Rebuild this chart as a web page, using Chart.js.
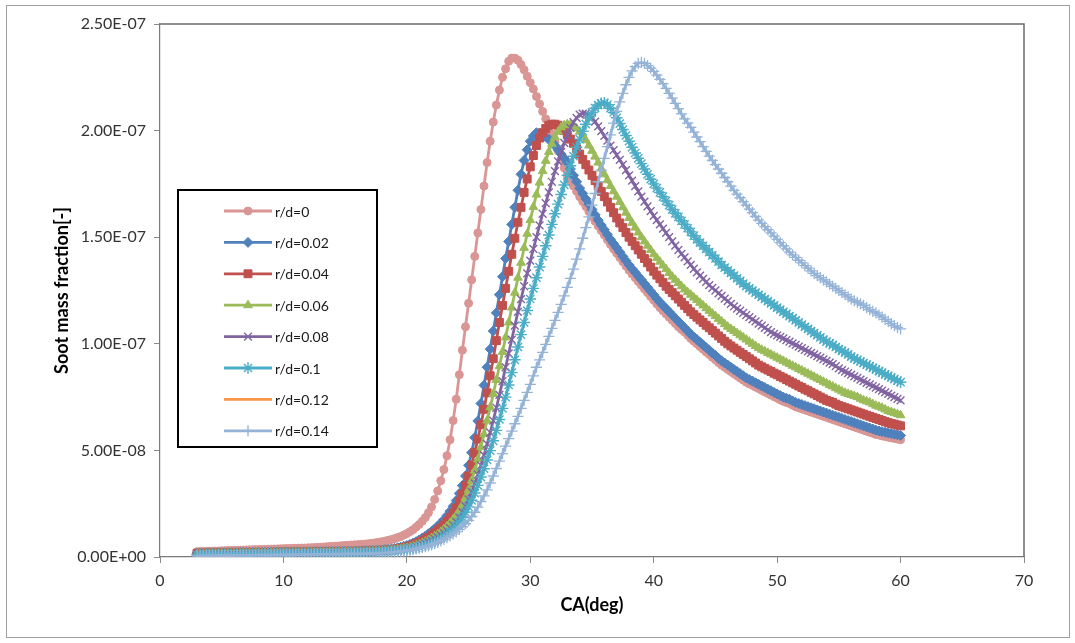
<!DOCTYPE html>
<html>
<head>
<meta charset="utf-8">
<script src="https://cdn.jsdelivr.net/npm/chart.js@4.4.1/dist/chart.umd.min.js"></script>
<style>
  html, body { margin: 0; padding: 0; background: #ffffff; }
  #wrap { width: 1075px; height: 643px; }
</style>
</head>
<body>
<div id="wrap"><canvas id="c" width="1075" height="643"></canvas></div>
<script>
// Crank angle (deg), 0.25 deg resolution
const CA = [
  3,3.25,3.5,3.75,4,4.25,4.5,4.75,
  5,5.25,5.5,5.75,6,6.25,6.5,6.75,
  7,7.25,7.5,7.75,8,8.25,8.5,8.75,
  9,9.25,9.5,9.75,10,10.25,10.5,10.75,
  11,11.25,11.5,11.75,12,12.25,12.5,12.75,
  13,13.25,13.5,13.75,14,14.25,14.5,14.75,
  15,15.25,15.5,15.75,16,16.25,16.5,16.75,
  17,17.25,17.5,17.75,18,18.25,18.5,18.75,
  19,19.25,19.5,19.75,20,20.25,20.5,20.75,
  21,21.25,21.5,21.75,22,22.25,22.5,22.75,
  23,23.25,23.5,23.75,24,24.25,24.5,24.75,
  25,25.25,25.5,25.75,26,26.25,26.5,26.75,
  27,27.25,27.5,27.75,28,28.25,28.5,28.75,
  29,29.25,29.5,29.75,30,30.25,30.5,30.75,
  31,31.25,31.5,31.75,32,32.25,32.5,32.75,
  33,33.25,33.5,33.75,34,34.25,34.5,34.75,
  35,35.25,35.5,35.75,36,36.25,36.5,36.75,
  37,37.25,37.5,37.75,38,38.25,38.5,38.75,
  39,39.25,39.5,39.75,40,40.25,40.5,40.75,
  41,41.25,41.5,41.75,42,42.25,42.5,42.75,
  43,43.25,43.5,43.75,44,44.25,44.5,44.75,
  45,45.25,45.5,45.75,46,46.25,46.5,46.75,
  47,47.25,47.5,47.75,48,48.25,48.5,48.75,
  49,49.25,49.5,49.75,50,50.25,50.5,50.75,
  51,51.25,51.5,51.75,52,52.25,52.5,52.75,
  53,53.25,53.5,53.75,54,54.25,54.5,54.75,
  55,55.25,55.5,55.75,56,56.25,56.5,56.75,
  57,57.25,57.5,57.75,58,58.25,58.5,58.75,
  59,59.25,59.5,59.75,60
];

// Soot mass fraction, in units of 1E-09
const soot_rd0 = [
  2.50,2.55,2.60,2.65,2.70,2.75,2.80,2.85,
  2.90,2.95,3.00,3.05,3.10,3.15,3.20,3.25,
  3.30,3.35,3.40,3.45,3.50,3.55,3.60,3.65,
  3.70,3.75,3.80,3.85,3.90,3.95,4.00,4.05,
  4.10,4.15,4.20,4.25,4.30,4.35,4.40,4.50,
  4.60,4.70,4.80,4.90,5.00,5.10,5.20,5.30,
  5.40,5.50,5.60,5.70,5.80,5.90,6.00,6.15,
  6.30,6.50,6.70,6.95,7.20,7.50,7.80,8.20,
  8.60,9.10,9.60,10.3,11.0,11.9,12.8,14.0,
  15.3,16.8,18.5,20.8,23.5,27.0,31.0,35.8,
  41.0,47.5,55.0,64.0,74.0,85.5,97.0,108,
  119,130,141,152,163,174,185,195,
  204,212,219,225,229,232.5,234,234,
  233,231,228.5,225.5,222.5,219.5,216,212.5,
  209,205.5,202,198.5,194.5,190.5,186.5,182.5,
  179,176.5,174,171.5,169,166.7,164.4,162,
  159.7,157.5,155.3,153.1,151,148.8,146.6,144.5,
  142.5,140.5,138.5,136.5,134.5,132.7,131,129.2,
  127.5,125.7,124,122.2,120.5,118.7,117,115.5,
  114,112.5,111,109.5,108,106.7,105.5,104,
  102.5,101.2,100,98.7,97.5,96.2,95,93.7,
  92.5,91.2,90,89,88,87,86,85,
  84,83,82,81.2,80.5,79.7,79,78.2,
  77.5,76.7,76,75.2,74.5,73.7,73,72.5,
  72,71.2,70.5,70,69.5,69,68.5,68,
  67.5,67,66.5,66,65.5,65,64.5,64,
  63.5,63,62.5,62,61.5,61,60.5,60,
  59.5,59,58.5,58,57.5,57.2,56.8,56.5,
  56.2,55.9,55.6,55.3,55
];
const soot_rd002 = [
  1.80,1.80,1.80,1.85,1.90,1.90,1.90,1.95,
  2.00,2.00,2.00,2.00,2.00,2.05,2.10,2.10,
  2.10,2.10,2.10,2.15,2.20,2.20,2.20,2.20,
  2.20,2.25,2.30,2.30,2.30,2.30,2.30,2.35,
  2.40,2.40,2.40,2.40,2.40,2.45,2.50,2.50,
  2.50,2.50,2.50,2.55,2.60,2.60,2.60,2.65,
  2.70,2.70,2.70,2.75,2.80,2.85,2.90,2.95,
  3.00,3.05,3.10,3.20,3.30,3.45,3.60,3.80,
  4.00,4.30,4.60,5.00,5.40,5.90,6.50,7.20,
  8.00,8.90,9.80,10.9,12.0,13.2,14.5,16.0,
  17.5,19.4,21.5,23.8,26.5,29.8,33.5,38.0,
  43.0,49.0,56.0,63.8,72.0,80.5,89.0,97.5,
  106,114.5,123,131.5,140,148,156,164,
  172,179.5,186,191,195,197.5,199,198.8,
  198,197,196,194.5,193,191,189,187,
  185,182,179,176,173,170.5,168,165.5,
  163,160.5,158,155.7,153.5,151.2,149,147,
  145,143,141,139,137,135.2,133.5,131.7,
  130,128.2,126.5,124.7,123,121.2,119.5,118,
  116.5,115,113.5,112,110.5,109,107.5,106,
  104.5,103.2,102,100.7,99.5,98.2,97,95.7,
  94.5,93.2,92,91,90,89,88,87,
  86,85,84,83.2,82.5,81.7,81,80.2,
  79.5,78.7,78,77.2,76.5,75.7,75,74.5,
  74,73.2,72.5,72,71.5,71,70.5,70,
  69.5,69,68.5,68,67.5,67,66.5,66,
  65.5,65,64.5,64,63.5,63,62.5,62,
  61.5,61,60.5,60,59.5,59.1,58.8,58.5,
  58.2,57.9,57.6,57.3,57
];
const soot_rd004 = [
  1.70,1.70,1.70,1.75,1.80,1.80,1.80,1.85,
  1.90,1.90,1.90,1.90,1.90,1.95,2.00,2.00,
  2.00,2.00,2.00,2.05,2.10,2.10,2.10,2.10,
  2.10,2.15,2.20,2.20,2.20,2.20,2.20,2.25,
  2.30,2.30,2.30,2.30,2.30,2.35,2.40,2.40,
  2.40,2.40,2.40,2.45,2.50,2.50,2.50,2.55,
  2.60,2.60,2.60,2.65,2.70,2.70,2.70,2.75,
  2.80,2.85,2.90,3.00,3.10,3.20,3.30,3.45,
  3.60,3.85,4.10,4.40,4.70,5.10,5.60,6.20,
  6.80,7.50,8.30,9.20,10.2,11.3,12.4,13.6,
  15.0,16.7,18.5,20.6,23.0,26.0,29.5,33.5,
  38.0,43.2,49.0,55.3,62.0,69.3,77.0,85.0,
  93.0,101.5,110,118,126,134,142,149.5,
  157,164,171,177.3,183,188.3,193,196.5,
  199,201,202.5,203,203,202.5,201.5,200,
  198,196,194,191.5,189,186.5,184,181.5,
  179,176.5,174,171.5,169,166.5,164,161.5,
  159,156.7,154.5,152.2,150,148,146,144,
  142,140,138,136,134,132.2,130.5,128.7,
  127,125.5,124,122.5,121,119.5,118,116.5,
  115,113.7,112.5,111.2,110,108.7,107.5,106.2,
  105,103.7,102.5,101.2,100,99,98,97,
  96,95,94,93,92,91,90,89.2,
  88.5,87.7,87,86.2,85.5,84.7,84,83.2,
  82.5,81.7,81,80.2,79.5,78.7,78,77.2,
  76.5,75.7,75,74.2,73.5,73,72.5,71.7,
  71,70.5,70,69.5,69,68.5,68,67.5,
  67,66.5,66,65.5,65,64.5,64,63.5,
  63,62.6,62.3,61.9,61.5
];
const soot_rd006 = [
  1.50,1.50,1.50,1.55,1.60,1.60,1.60,1.65,
  1.70,1.70,1.70,1.70,1.70,1.75,1.80,1.80,
  1.80,1.80,1.80,1.85,1.90,1.90,1.90,1.90,
  1.90,1.95,2.00,2.00,2.00,2.00,2.00,2.05,
  2.10,2.10,2.10,2.10,2.10,2.15,2.20,2.20,
  2.20,2.20,2.20,2.25,2.30,2.30,2.30,2.35,
  2.40,2.40,2.40,2.45,2.50,2.50,2.50,2.55,
  2.60,2.65,2.70,2.80,2.90,3.00,3.10,3.25,
  3.40,3.60,3.80,4.05,4.30,4.60,5.00,5.50,
  6.00,6.60,7.20,7.95,8.80,9.70,10.7,11.8,
  13.0,14.4,16.0,17.7,19.5,21.8,24.5,27.8,
  31.5,35.8,40.5,45.8,51.5,57.6,64.0,70.2,
  76.5,83.0,89.5,96.2,103,110,117,124,
  131,138,145,151.6,158,164.2,170,175.6,
  181,185.8,190,193.8,197,199.5,201.5,202.5,
  203,202.8,202,201,199.5,197.7,195.5,193,
  190.5,187.8,185,182.2,179.5,176.7,174,171.5,
  169,166.5,164,161.5,159,156.7,154.5,152.2,
  150,148,146,144,142,140.2,138.5,136.7,
  135,133.2,131.5,130,128.5,127,125.5,124.2,
  123,121.7,120.5,119.2,118,116.7,115.5,114.2,
  113,111.7,110.5,109.2,108,107,106,105,
  104,103,102,101,100,99,98,97.2,
  96.5,95.7,95,94.2,93.5,92.7,92,91.2,
  90.5,89.7,89,88.2,87.5,86.7,86,85.2,
  84.5,83.7,83,82.2,81.5,80.7,80,79.2,
  78.5,77.7,77,76.5,76,75.5,75,74.2,
  73.5,73,72.5,71.7,71,70.5,70,69.2,
  68.5,68,67.5,67,66.5
];
const soot_rd008 = [
  1.30,1.30,1.30,1.35,1.40,1.40,1.40,1.45,
  1.50,1.50,1.50,1.50,1.50,1.55,1.60,1.60,
  1.60,1.60,1.60,1.65,1.70,1.70,1.70,1.70,
  1.70,1.75,1.80,1.80,1.80,1.80,1.80,1.85,
  1.90,1.90,1.90,1.90,1.90,1.95,2.00,2.00,
  2.00,2.00,2.00,2.05,2.10,2.10,2.10,2.15,
  2.20,2.20,2.20,2.25,2.30,2.30,2.30,2.35,
  2.40,2.45,2.50,2.60,2.70,2.80,2.90,3.05,
  3.20,3.35,3.50,3.75,4.00,4.30,4.60,5.00,
  5.40,5.90,6.40,7.00,7.70,8.50,9.30,10.2,
  11.2,12.3,13.5,14.9,16.5,18.6,21.0,23.8,
  27.0,30.6,34.5,38.6,43.0,47.8,53.0,58.4,
  64.0,70.0,76.0,82.5,89.0,95.5,102,108.5,
  115,121,127,133,139,144.5,150,155.5,
  161,166,171,176,181,185.6,190,194.2,
  198,201.3,204,206,207.5,208,208,207.3,
  206,204.2,202,199.8,197.5,195.3,193,190.8,
  188.5,186.3,184,181.5,179,176.5,174,171.5,
  169,166.7,164.5,162.2,160,158,156,154,
  152,150,148,146,144,142.2,140.5,138.7,
  137,135.2,133.5,132,130.5,129,127.5,126.2,
  125,123.7,122.5,121.2,120,118.7,117.5,116.5,
  115.5,114.5,113.5,112.5,111.5,110.5,109.5,108.5,
  107.5,106.5,105.5,104.7,104,103.2,102.5,101.7,
  101,100.2,99.5,98.7,98,97.2,96.5,95.7,
  95,94.2,93.5,92.7,92,91.2,90.5,89.5,
  88.5,87.7,87,86.2,85.5,84.7,84,83.2,
  82.5,81.7,81,80.2,79.5,78.7,78,77.2,
  76.5,75.7,75,74.2,73.5
];
const soot_rd01 = [
  1.00,1.00,1.00,1.05,1.10,1.10,1.10,1.15,
  1.20,1.20,1.20,1.20,1.20,1.25,1.30,1.30,
  1.30,1.30,1.30,1.35,1.40,1.40,1.40,1.40,
  1.40,1.45,1.50,1.50,1.50,1.50,1.50,1.55,
  1.60,1.60,1.60,1.60,1.60,1.65,1.70,1.70,
  1.70,1.70,1.70,1.75,1.80,1.80,1.80,1.85,
  1.90,1.90,1.90,1.95,2.00,2.00,2.00,2.05,
  2.10,2.15,2.20,2.30,2.40,2.50,2.60,2.70,
  2.80,2.95,3.10,3.30,3.50,3.75,4.00,4.30,
  4.70,5.10,5.50,6.00,6.60,7.30,8.00,8.80,
  9.70,10.7,11.8,13.1,14.5,16.4,18.5,20.9,
  23.5,26.6,30.0,33.6,37.5,41.4,45.5,49.9,
  54.5,59.4,64.5,69.7,75.0,80.7,86.5,92.5,
  98.5,104.3,110,115.6,121,126,131,136,
  141,146,151,156,161,165.5,170,174.5,
  179,183.5,188,192.2,196,199.7,203,206,
  208.5,210.5,212,212.8,213,212.2,210.5,208.5,
  206,203.3,200.5,197.7,195,192.2,189.5,187,
  184.5,182,179.5,177.2,175,173,171,169,
  167,165,163,161.2,159.5,157.7,156,154.2,
  152.5,150.7,149,147.5,146,144.5,143,141.5,
  140,138.5,137,135.7,134.5,133.2,132,130.7,
  129.5,128.2,127,126,125,124,123,122,
  121,120,119,118,117,116,115,114,
  113,112,111,110,109,108,107,106,
  105,104,103,102,101,100.2,99.5,98.5,
  97.5,96.7,96,95,94,93.2,92.5,91.7,
  91,90.2,89.5,88.7,88,87.2,86.5,85.7,
  85,84.2,83.5,82.7,82
];
const soot_rd012 = [];
const soot_rd014 = [
  0.50,0.50,0.50,0.55,0.60,0.60,0.60,0.65,
  0.70,0.70,0.70,0.70,0.70,0.75,0.80,0.80,
  0.80,0.80,0.80,0.85,0.90,0.90,0.90,0.90,
  0.90,0.95,1.00,1.00,1.00,1.00,1.00,1.05,
  1.10,1.10,1.10,1.10,1.10,1.15,1.20,1.20,
  1.20,1.20,1.20,1.25,1.30,1.30,1.30,1.35,
  1.40,1.40,1.40,1.45,1.50,1.50,1.50,1.55,
  1.60,1.65,1.70,1.75,1.80,1.90,2.00,2.15,
  2.30,2.45,2.60,2.80,3.00,3.25,3.50,3.80,
  4.10,4.45,4.80,5.20,5.70,6.30,6.90,7.60,
  8.30,9.10,9.90,10.8,11.8,13.0,14.2,15.6,
  17.2,19.0,21.0,23.4,26.0,28.7,31.5,34.7,
  38.0,41.5,45.0,48.5,52.0,55.5,59.0,62.5,
  66.0,69.7,73.5,77.2,81.0,85.0,89.0,92.5,
  96.0,99.7,103.5,107.2,111,114.7,118.5,122.5,
  126.5,130.7,135,139.7,144.5,149.5,154.5,159.5,
  165,170.5,176,181.5,187,192.5,198,203.5,
  209,213.5,217.5,221.5,225,228,230,231.5,
  232,231.5,230.5,229.3,227.8,226,224,222,
  219.8,217.5,215.2,212.8,210.3,207.8,205.5,203.5,
  201.5,199.3,197,194.8,192.5,190.3,188,186,
  184,182,180,178,176,174,172,170.2,
  168.5,166.7,165,163.2,161.5,159.7,158,156.5,
  155,153.5,152,150.5,149,147.5,146,144.5,
  143,141.7,140.5,139.2,138,136.7,135.5,134.2,
  133,132,131,130,129,128,127,126,
  125,124,123,122,121,120.2,119.5,118.7,
  118,117,116,115.2,114.5,113.5,112.5,111.5,
  110.5,109.5,108.5,107.7,107
];

const seriesNames = ['r/d=0','r/d=0.02','r/d=0.04','r/d=0.06','r/d=0.08','r/d=0.1','r/d=0.12','r/d=0.14'];
const seriesValues = [soot_rd0, soot_rd002, soot_rd004, soot_rd006, soot_rd008, soot_rd01, soot_rd012, soot_rd014];
const yTicks = [0, 50, 100, 150, 200, 250];
const xTicks = [0, 10, 20, 30, 40, 50, 60, 70];

// Line colour and marker per series
const styles = [
  { color: '#D99694', point: 'circle',   radius: 4,   bw: 1 },
  { color: '#4F81BD', point: 'rectRot',  radius: 5,   bw: 1 },
  { color: '#C0504D', point: 'rect',     radius: 5.6, bw: 1 },
  { color: '#9BBB59', point: 'triangle', radius: 5,   bw: 1 },
  { color: '#8064A2', point: 'crossRot', radius: 5.5, bw: 1.4 },
  { color: '#4BACC6', point: 'star',     radius: 5.8, bw: 1.4 },
  { color: '#F79646', point: false,      radius: 0,   bw: 0 },
  { color: '#95B3D7', point: 'cross',    radius: 5.6, bw: 1.3 }
];

const FONT = 'Lato, "Open Sans", sans-serif';

function sciLabel(v) {
  const s = (v * 1e-9).toExponential(2);
  const parts = s.split('e');
  const e = parseInt(parts[1], 10);
  const sign = e < 0 ? '-' : '+';
  const mag = Math.abs(e);
  return parts[0] + 'E' + sign + (mag < 10 ? '0' + mag : String(mag));
}

const datasets = seriesNames.map((name, i) => ({
  label: name,
  data: seriesValues[i].map((v, k) => ({ x: CA[k], y: v })),
  borderColor: styles[i].color,
  backgroundColor: styles[i].color,
  borderWidth: 2.8,
  pointStyle: styles[i].point,
  pointRadius: styles[i].radius,
  pointBorderWidth: styles[i].bw,
  pointBackgroundColor: styles[i].color,
  pointBorderColor: styles[i].color,
  tension: 0,
  order: seriesNames.length - i
}));

// White page, outer frame and plot-area frame
const framePlugin = {
  id: 'frame',
  beforeDraw(chart) {
    const ctx = chart.ctx;
    ctx.save();
    ctx.fillStyle = '#ffffff';
    ctx.fillRect(0, 0, chart.width, chart.height);
    ctx.strokeStyle = '#a0a0a0';
    ctx.lineWidth = 1;
    ctx.strokeRect(6.5, 5.5, 1063, 632);
    ctx.restore();
  },
  afterDatasetsDraw(chart) {
    const a = chart.chartArea;
    const ctx = chart.ctx;
    ctx.save();
    ctx.strokeStyle = '#6b6b6b';
    ctx.lineWidth = 1.5;
    ctx.beginPath();
    ctx.moveTo(a.left, a.top);
    ctx.lineTo(a.right, a.top);
    ctx.lineTo(a.right, a.bottom);
    ctx.stroke();
    ctx.restore();
  }
};

// Boxed legend inside the plot area
const boxLegend = {
  id: 'boxLegend',
  afterDraw(chart) {
    const ctx = chart.ctx;
    const box = { x: 178, y: 190, w: 199, h: 257 };
    ctx.save();
    ctx.fillStyle = '#ffffff';
    ctx.fillRect(box.x, box.y, box.w, box.h);
    ctx.strokeStyle = '#000000';
    ctx.lineWidth = 2;
    ctx.strokeRect(box.x, box.y, box.w, box.h);
    const y0 = 211, dy = 31.4;
    seriesNames.forEach((name, i) => {
      const y = y0 + i * dy;
      const st = styles[i];
      ctx.strokeStyle = st.color;
      ctx.lineWidth = 2.8;
      ctx.beginPath();
      ctx.moveTo(224, y);
      ctx.lineTo(272, y);
      ctx.stroke();
      if (st.point) {
        ctx.fillStyle = st.color;
        ctx.strokeStyle = st.color;
        ctx.lineWidth = st.bw;
        Chart.helpers.drawPoint(ctx, { pointStyle: st.point, radius: st.radius, borderWidth: st.bw, rotation: 0 }, 248, y);
      }
      ctx.fillStyle = '#1a1a1a';
      ctx.font = '14px ' + FONT;
      ctx.textAlign = 'left';
      ctx.textBaseline = 'middle';
      ctx.fillText(name, 275, y + 1);
    });
    ctx.restore();
  }
};

new Chart(document.getElementById('c'), {
  type: 'line',
  data: { datasets },
  options: {
    responsive: false,
    animation: false,
    devicePixelRatio: 1,
    layout: { padding: { left: 0, top: 24, right: 51, bottom: 0 } },
    plugins: { legend: { display: false }, tooltip: { enabled: false } },
    elements: { line: { tension: 0 } },
    scales: {
      x: {
        type: 'linear',
        min: xTicks[0],
        max: xTicks[xTicks.length - 1],
        afterBuildTicks(scale) { scale.ticks = xTicks.map(v => ({ value: v })); },
        ticks: { color: '#333333', font: { family: FONT, size: 16 }, padding: 8, maxRotation: 0, callback: v => String(v) },
        grid: { drawOnChartArea: false, drawTicks: true, tickLength: 6, color: '#8a8a8a' },
        border: { color: '#7a7a7a', width: 1.2 },
        title: { display: true, text: 'CA(deg)', color: '#000000', font: { family: FONT, size: 18, weight: 'bold' }, padding: { top: 0, bottom: 27 } },
        afterFit(scale) { scale.height = 86; }
      },
      y: {
        type: 'linear',
        min: yTicks[0],
        max: yTicks[yTicks.length - 1],
        afterBuildTicks(scale) { scale.ticks = yTicks.map(v => ({ value: v })); },
        ticks: { color: '#333333', font: { family: FONT, size: 16 }, padding: 8, callback: v => sciLabel(v) },
        grid: { drawOnChartArea: false, drawTicks: true, tickLength: 6, color: '#8a8a8a' },
        border: { color: '#7a7a7a', width: 1.2 },
        title: { display: true, text: 'Soot mass fraction[-]', color: '#000000', font: { family: FONT, size: 18, weight: 'bold' }, padding: { top: 51, bottom: 0 } },
        afterFit(scale) { scale.width = 160; }
      }
    }
  },
  plugins: [framePlugin, boxLegend]
});
</script>
</body>
</html>
